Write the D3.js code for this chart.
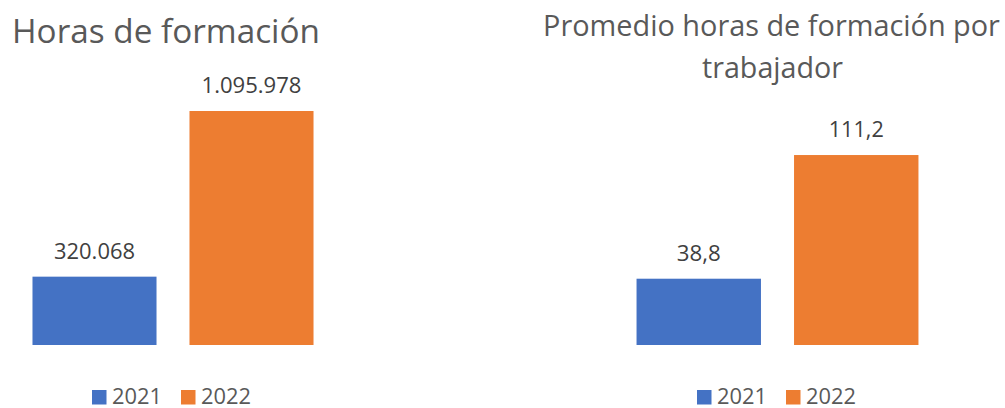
<!DOCTYPE html>
<html><head><meta charset="utf-8">
<script src="https://cdn.jsdelivr.net/npm/d3@7"></script>
<style>body{margin:0;background:#fff}svg{display:block}text{font-family:"Open Sans",sans-serif}</style>
</head><body>
<script>
const years = ["2021", "2022"];
const horasValues = [320068, 1095978];
const horasLabels = ["320.068", "1.095.978"];
const promedioValues = [38.8, 111.2];
const promedioLabels = ["38,8", "111,2"];
const colors = ["#4472C4", "#ED7D31"];

const W = 1005, H = 408;
const svg = d3.select("body").append("svg").attr("width", W).attr("height", H);

function fit(sel, w) {
  const n = sel.node();
  const fs = parseFloat(sel.attr("font-size"));
  const len = n.getComputedTextLength();
  sel.attr("font-size", fs * w / len);
}

const panels = [
  {values: horasValues, labels: horasLabels, max: 1200000, yTop: 88.8, xr: [16, 330],
   title: [{t: "Horas de formación", x: 166, y: 43, w: 308}],
   labelW: [81, 100], legendX: 92},
  {values: promedioValues, labels: promedioLabels, max: 120, yTop: 140, xr: [620, 935],
   title: [{t: "Promedio horas de formación por", x: 771.5, y: 36, w: 457},
           {t: "trabajador", x: 772.5, y: 78, w: 141}],
   labelW: [44, 55], legendX: 697}
];

panels.forEach(p => {
  const g = svg.append("g");
  const x = d3.scaleBand().domain(years).range(p.xr).paddingInner(0.21).paddingOuter(0.105);
  const y = d3.scaleLinear().domain([0, p.max]).range([345, p.yTop]);

  p.title.forEach(t => {
    const s = g.append("text").attr("x", t.x).attr("y", t.y).attr("text-anchor", "middle")
      .attr("fill", "#595959").attr("font-size", 30).text(t.t);
    fit(s, t.w);
  });

  g.selectAll("rect.bar").data(years).join("rect").attr("class", "bar")
    .attr("x", d => x(d)).attr("width", x.bandwidth())
    .attr("y", (d, i) => y(p.values[i])).attr("height", (d, i) => y(0) - y(p.values[i]))
    .attr("fill", (d, i) => colors[i]);

  g.selectAll("text.lbl").data(years).join("text").attr("class", "lbl")
    .attr("x", d => x(d) + x.bandwidth() / 2).attr("y", (d, i) => y(p.values[i]) - 18)
    .attr("text-anchor", "middle").attr("fill", "#404040").attr("font-size", 21)
    .text((d, i) => p.labels[i])
    .each(function(d, i) { fit(d3.select(this), p.labelW[i]); });

  const lg = g.append("g").attr("transform", `translate(${p.legendX},0)`);
  years.forEach((yr, i) => {
    const ox = i * 89;
    lg.append("rect").attr("x", ox).attr("y", 390).attr("width", 14.5).attr("height", 14.5).attr("fill", colors[i]);
    const t = lg.append("text").attr("x", ox + 20).attr("y", 403.5).attr("fill", "#595959")
      .attr("font-size", 21).text(yr);
    fit(t, 50);
  });
});
</script>
</body></html>
